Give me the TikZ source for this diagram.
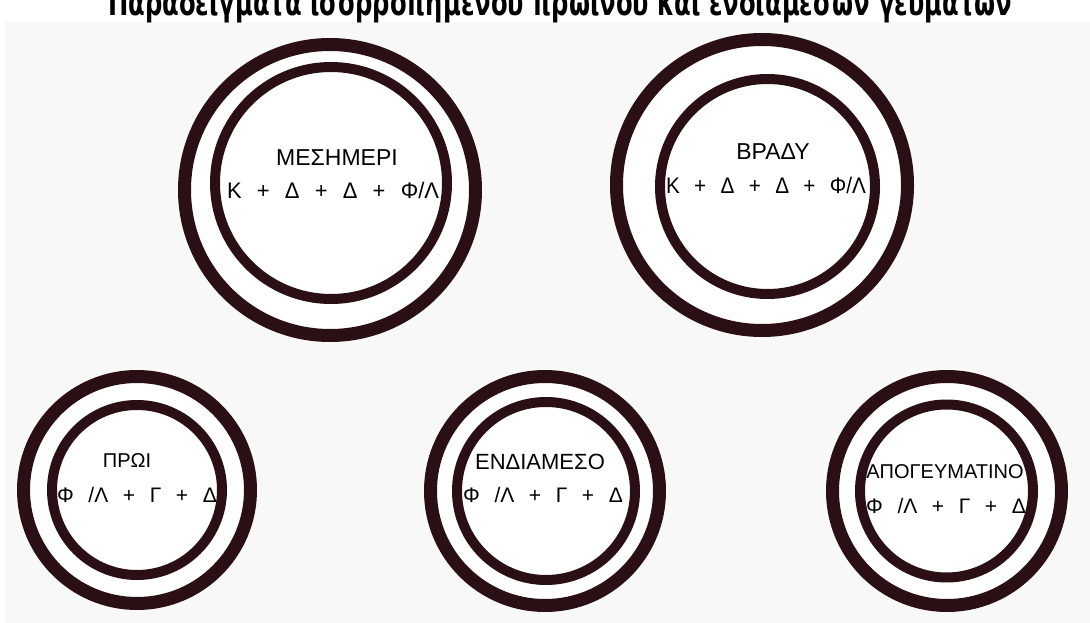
\documentclass[tikz,border=0pt]{standalone}
\usepackage{fontspec}
\usepackage{graphicx}
\setmainfont{Liberation Sans}
\newfontfamily\linefont{Liberation Sans}[WordSpace=2.0]
\newfontfamily\linefontb{Liberation Sans}[WordSpace=2.5]
\newfontfamily\titlefont{DejaVu Sans}
\definecolor{ring}{RGB}{42,16,20}
\definecolor{bg}{RGB}{248,248,248}
\newcommand\fitw[2]{\resizebox{#1pt}{\height}{#2}}
\begin{document}
\begin{tikzpicture}[x=1pt,y=-1pt,
  bigout/.style={circle,draw=ring,line width=13pt,inner sep=0pt},
  bigin/.style={circle,draw=ring,line width=10pt,inner sep=0pt},
  nametop/.style={inner sep=0pt,anchor=base,font=\fontsize{23pt}{26pt}\selectfont},
  mealtop/.style={inner sep=0pt,anchor=base,font=\linefont\fontsize{22.5pt}{26pt}\selectfont},
  namebot/.style={inner sep=0pt,anchor=base,font=\fontsize{20pt}{23pt}\selectfont},
  mealbot/.style={inner sep=0pt,anchor=base,font=\linefontb\fontsize{21pt}{24pt}\selectfont}]
\useasboundingbox (0,0) rectangle (1090,623);
\clip (0,0) rectangle (1090,623);
\fill[white] (0,0) rectangle (1090,623);
\fill[bg] (5,22) rectangle (1090,623);
% title (cut at the top edge, as in the reference)
\node[inner sep=0pt,anchor=base west] (title) at (108,16)
  {\fitw{904}{\titlefont\bfseries\fontsize{36pt}{40pt}\selectfont Παραδείγματα ισορροπημένου πρωινού και ενδιάμεσων γευμάτων}};
% ΜΕΣΗΜΕΡΙ
\node[bigout,minimum size=291pt,fill=white] (mes-out) at (330,190) {};
\node[bigin,minimum size=232pt] (mes-in) at (331,183) {};
\node[nametop] (mes-a) at (337,165) {ΜΕΣΗΜΕΡΙ};
\node[mealtop] (mes-b) at (333,198) {\fitw{212}{Κ + Δ + Δ + Φ/Λ}};
% ΒΡΑΔΥ
\node[bigout,minimum size=291pt,fill=white] (vra-out) at (762,185) {};
\node[bigin,minimum size=215pt] (vra-in) at (767.5,186.5) {};
\node[nametop] (vra-a) at (773,160) {ΒΡΑΔΥ};
\node[mealtop] (vra-b) at (766,193) {\fitw{200}{Κ + Δ + Δ + Φ/Λ}};
% ΠΡΩΙ
\node[bigout,minimum size=227pt,fill=white] (pro-out) at (137,490) {};
\node[bigin,minimum size=170pt] (pro-in) at (137,490) {};
\node[namebot] (pro-a) at (127,467) {ΠΡΩΙ};
\node[mealbot] (pro-b) at (137,502) {Φ /Λ + Γ + Δ};
% ΕΝΔΙΑΜΕΣΟ
\node[bigout,minimum size=229pt,fill=white] (end-out) at (545,491) {};
\node[bigin,minimum size=178pt] (end-in) at (546,491) {};
\node[namebot,font=\fontsize{22pt}{25pt}\selectfont] (end-a) at (540,469) {ΕΝΔΙΑΜΕΣΟ};
\node[mealbot] (end-b) at (543,502) {Φ /Λ + Γ + Δ};
% ΑΠΟΓΕΥΜΑΤΙΝΟ
\node[bigout,minimum size=229pt,fill=white] (apo-out) at (947,491) {};
\node[bigin,minimum size=173pt] (apo-in) at (946.5,491) {};
\node[namebot] (apo-a) at (945,478) {ΑΠΟΓΕΥΜΑΤΙΝΟ};
\node[mealbot] (apo-b) at (946,513) {Φ /Λ + Γ + Δ};
\end{tikzpicture}
\end{document}
